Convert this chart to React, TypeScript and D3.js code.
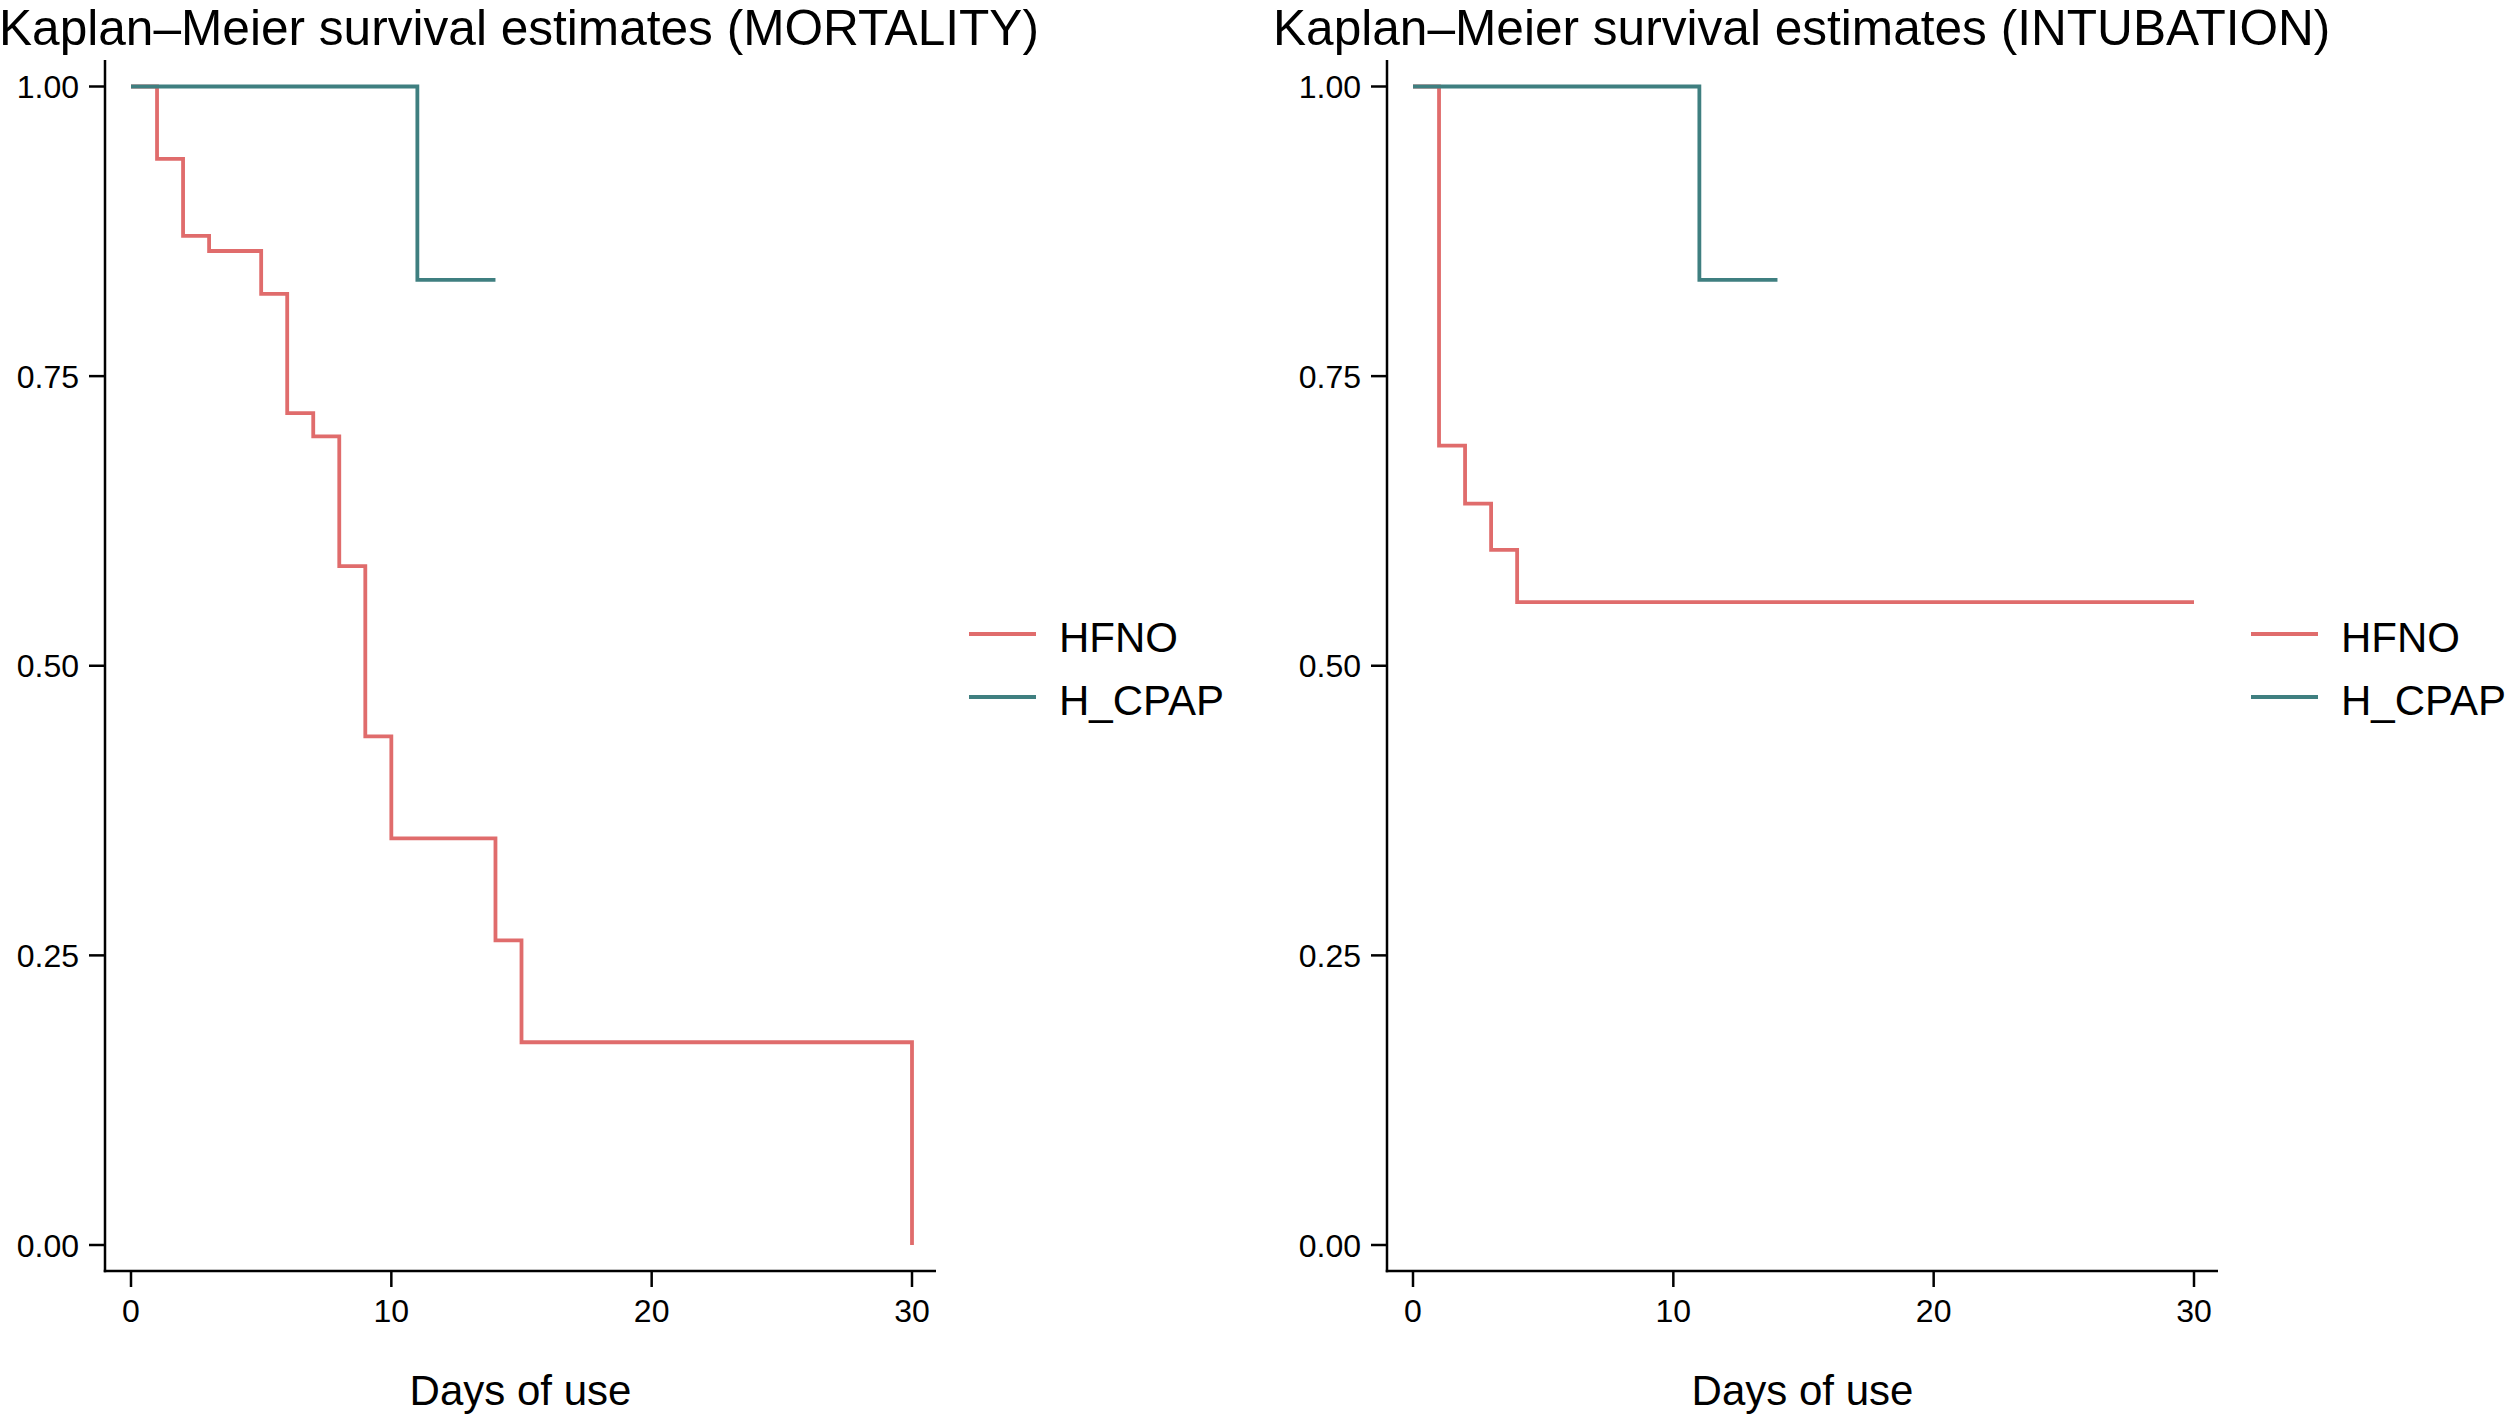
import React from "react";
import * as d3 from "d3";

const yTicks = [0, 0.25, 0.5, 0.75, 1];
const yTickLabels = ["0.00", "0.25", "0.50", "0.75", "1.00"];
const xTicks = [0, 10, 20, 30];
const xTickLabels = ["0", "10", "20", "30"];
const groups = ["HFNO", "H_CPAP"];
const colors = ["#E06C6C", "#3F7F80"];

const mortHfnoTimes = [0, 1, 2, 3, 5, 6, 7, 8, 9, 10, 14, 15, 30];
const mortHfnoSurv = [1, 0.9375, 0.871, 0.858, 0.821, 0.718, 0.698, 0.586, 0.439, 0.351, 0.263, 0.175, 0];
const mortCpapTimes = [0, 11, 14];
const mortCpapSurv = [1, 0.833, 0.833];

const intHfnoTimes = [0, 1, 2, 3, 4, 30];
const intHfnoSurv = [1, 0.69, 0.64, 0.6, 0.555, 0.555];
const intCpapTimes = [0, 11, 14];
const intCpapSurv = [1, 0.833, 0.833];

const panels = [
  {
    title: "Kaplan\u2013Meier survival estimates (MORTALITY)",
    series: [
      { t: mortHfnoTimes, s: mortHfnoSurv },
      { t: mortCpapTimes, s: mortCpapSurv },
    ],
  },
  {
    title: "Kaplan\u2013Meier survival estimates (INTUBATION)",
    series: [
      { t: intHfnoTimes, s: intHfnoSurv },
      { t: intCpapTimes, s: intCpapSurv },
    ],
  },
];

const FONT = "'Liberation Sans', Arial, Helvetica, sans-serif";

function Panel({ p, dx, titleX }: { p: (typeof panels)[number]; dx: number; titleX: number }) {
  const axisX = 105;
  const axisTop = 60;
  const axisBottom = 1271;
  const axisRight = 936;
  const x = d3.scaleLinear().domain([0, 30]).range([131, 912]);
  const y = d3.scaleLinear().domain([0, 1]).range([1245, 86.5]);
  const line = d3
    .line<[number, number]>()
    .x((d) => x(d[0]))
    .y((d) => y(d[1]))
    .curve(d3.curveStepAfter);
  return (
    <g transform={`translate(${dx},0)`}>
      <text x={titleX} y={45} fontSize={49.6} fontFamily={FONT} fill="#000">
        {p.title}
      </text>
      {p.series.map((sr, i) => (
        <path
          key={i}
          d={line(sr.t.map((t, j) => [t, sr.s[j]] as [number, number])) || ""}
          fill="none"
          stroke={colors[i]}
          strokeWidth={3.8}
          strokeLinejoin="miter"
          strokeLinecap="butt"
        />
      ))}
      <line x1={axisX} x2={axisX} y1={axisTop} y2={axisBottom + 1.25} stroke="#000" strokeWidth={2.5} />
      <line x1={axisX - 1.25} x2={axisRight} y1={axisBottom} y2={axisBottom} stroke="#000" strokeWidth={2.5} />
      {yTicks.map((v, i) => (
        <g key={v}>
          <line x1={axisX - 16} x2={axisX} y1={y(v)} y2={y(v)} stroke="#000" strokeWidth={2.5} />
          <text
            x={axisX - 26}
            y={y(v)}
            dy="0.36em"
            textAnchor="end"
            fontSize={32}
            fontFamily={FONT}
            fill="#000"
          >
            {yTickLabels[i]}
          </text>
        </g>
      ))}
      {xTicks.map((v, i) => (
        <g key={v}>
          <line x1={x(v)} x2={x(v)} y1={axisBottom} y2={axisBottom + 16} stroke="#000" strokeWidth={2.5} />
          <text x={x(v)} y={1322} textAnchor="middle" fontSize={32} fontFamily={FONT} fill="#000">
            {xTickLabels[i]}
          </text>
        </g>
      ))}
      <text
        x={(axisX + axisRight) / 2}
        y={1405}
        textAnchor="middle"
        fontSize={42}
        fontFamily={FONT}
        fill="#000"
      >
        Days of use
      </text>
      {groups.map((g, i) => (
        <g key={g}>
          <line x1={969} x2={1036} y1={634 + i * 63} y2={634 + i * 63} stroke={colors[i]} strokeWidth={3.8} />
          <text x={1059} y={652 + i * 63} fontSize={42} fontFamily={FONT} fill="#000">
            {g}
          </text>
        </g>
      ))}
    </g>
  );
}

export default function App() {
  return (
    <svg
      width={2508}
      height={1420}
      style={{ position: "absolute", left: 0, top: 0, display: "block", background: "#fff" }}
    >
      <rect width={2508} height={1420} fill="#fff" />
      {panels.map((p, i) => (
        <Panel key={i} p={p} dx={i * 1282} titleX={i === 0 ? -1 : -9} />
      ))}
    </svg>
  );
}
